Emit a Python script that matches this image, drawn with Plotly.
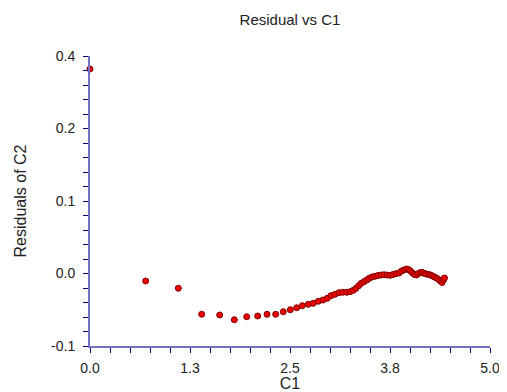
import plotly.graph_objects as go

# residuals
c1 = [0.0, 0.696, 1.104, 1.396, 1.621, 1.804, 1.959, 2.096, 2.2125, 2.321,
      2.416, 2.504, 2.584, 2.654, 2.729, 2.791, 2.854, 2.9125, 2.966, 3.0125,
      3.0625, 3.1125, 3.159, 3.209, 3.25, 3.291, 3.325, 3.359, 3.391, 3.425,
      3.459, 3.491, 3.525, 3.5625, 3.6, 3.6375, 3.675, 3.7125, 3.75, 3.7875,
      3.825, 3.8625, 3.894, 3.925, 3.956, 3.981, 4.006, 4.031, 4.056, 4.081,
      4.106, 4.131, 4.156, 4.181, 4.206, 4.231, 4.256, 4.281, 4.306, 4.331,
      4.356, 4.381, 4.4, 4.419, 4.431]
resid = [0.3776, 0.0121, -0.0005, -0.0453, -0.0466, -0.0547, -0.0495, -0.0483, -0.0453, -0.0453,
         -0.0409, -0.0374, -0.0340, -0.0305, -0.0281, -0.0264, -0.0229, -0.0207, -0.0178, -0.0133,
         -0.0109, -0.0081, -0.0074, -0.0074, -0.0064, -0.0040, -0.0005, 0.0040, 0.0081, 0.0109,
         0.0138, 0.0167, 0.0190, 0.0202, 0.0216, 0.0224, 0.0229, 0.0224, 0.0219, 0.0233,
         0.0247, 0.0259, 0.0293, 0.0310, 0.0328, 0.0319, 0.0293, 0.0259, 0.0233, 0.0224,
         0.0250, 0.0267, 0.0267, 0.0250, 0.0241, 0.0233, 0.0224, 0.0207, 0.0190, 0.0172,
         0.0147, 0.0121, 0.0095, 0.0138, 0.0172]

x_ticks = [0.0, 1.25, 2.5, 3.75, 5.0]
x_labels = ["0.0", "1.3", "2.5", "3.8", "5.0"]
y_ticks = [-0.1, 0.025, 0.15, 0.275, 0.4]
y_labels = ["-0.1", "0.0", "0.1", "0.2", "0.4"]

FONT = "Liberation Sans, Arial"

fig = go.Figure()
fig.add_trace(go.Scatter(
    x=c1, y=resid, mode="markers", cliponaxis=False,
    marker=dict(size=6, color="#ee0000", line=dict(color="#800000", width=1)),
))

axis_style = dict(
    showgrid=False, zeroline=False, showline=True,
    linecolor="#7272c4", linewidth=2,
    ticks="outside", ticklen=5, tickwidth=1, tickcolor="#000080",
    tickfont=dict(family=FONT, size=14, color="#222222"),
    tickmode="array", automargin=False,
)

fig.update_xaxes(
    range=[0, 5], tickvals=x_ticks, ticktext=x_labels, ticklabelstandoff=3,
    minor=dict(tickmode="linear", tick0=0, dtick=0.25, ticks="outside",
               ticklen=5, tickcolor="#000080"),
    title=dict(text="C1", standoff=2, font=dict(family=FONT, size=16, color="#222222")),
    **axis_style,
)
fig.update_yaxes(
    range=[-0.1, 0.4], tickvals=y_ticks, ticktext=y_labels, ticklabelstandoff=5,
    minor=dict(tickmode="linear", tick0=-0.1, dtick=0.025, ticks="outside",
               ticklen=5, tickcolor="#000080"),
    title=dict(text="Residuals of C2", standoff=20,
               font=dict(family=FONT, size=16, color="#222222")),
    **axis_style,
)

# page has an 8px body margin, so shrink the figure to land in the same place
fig.update_layout(
    width=499, height=384,
    margin=dict(l=82, r=17, t=48, b=46),
    plot_bgcolor="white", paper_bgcolor="white",
    showlegend=False,
    title=dict(text="Residual vs C1", x=(290 - 8) / 499, xanchor="center",
               y=1 - 12 / 384, yanchor="middle",
               font=dict(family=FONT, size=15, color="#222222")),
)

fig.write_html("out.html")
